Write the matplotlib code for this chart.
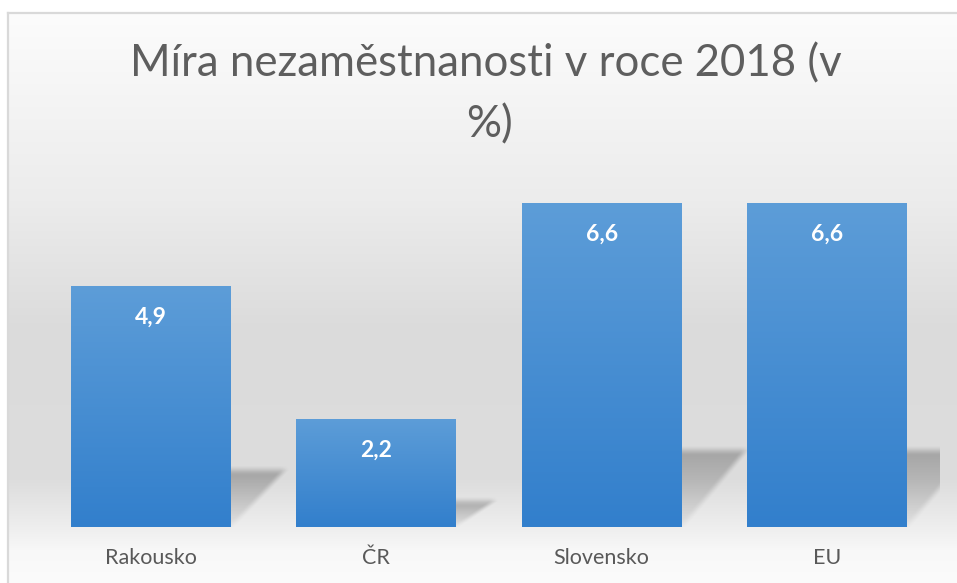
import numpy as np
import matplotlib
matplotlib.use("Agg")
import matplotlib.pyplot as plt

# data
categories = ["Rakousko", "ČR", "Slovensko", "EU"]
values = [4.9, 2.2, 6.6, 6.6]
labels = ["4,9", "2,2", "6,6", "6,6"]
title_l1 = "Míra nezaměstnanosti v roce 2018 (v"
title_l2 = "%)"

W, H = 957, 583
fig = plt.figure(figsize=(W / 100, H / 100), dpi=100)
fig.patch.set_facecolor("white")

# background gradient (pixel space)
bg = fig.add_axes([0, 0, 1, 1])
bg.set_xlim(0, W)
bg.set_ylim(H, 0)
bg.axis("off")
ys = np.arange(H)
stops_y = [13, 200, 330, 480, 527, 550, 583]
stops_c = [252, 236, 219, 221, 238, 248, 251]
col = np.interp(ys, stops_y, stops_c) / 255.0
img = np.ones((H, W, 3))
img[:, :, :] = col[:, None, None]
img[:13, :, :] = 1.0
img[:, :8, :] = 1.0
bg.imshow(img, extent=(0, W, H, 0), aspect="auto", interpolation="bilinear", zorder=0)
bg.plot([8, W], [13, 13], color="#d9d9d9", lw=1.6, zorder=1)
bg.plot([8, 8], [13, H], color="#d9d9d9", lw=1.6, zorder=1)

# title
tcol = "#595959"
fam = ["Lato", "DejaVu Sans"]
bg.text(486, 76, title_l1, ha="center", va="baseline", fontsize=31.5,
        family=fam, color="#5e5e5e", zorder=3)
bg.text(489, 137, title_l2, ha="center", va="baseline", fontsize=31.5,
        family=fam, color="#5e5e5e", zorder=3)

# main axes, pixel geometry of the plot area
base_px = 527
px_per_unit = 49.1
ymax = 7.0
top_px = base_px - ymax * px_per_unit
x_left, x_right = 38.3, 939.7
ax = fig.add_axes([x_left / W, 1 - base_px / H, (x_right - x_left) / W, (base_px - top_px) / H])
ax.set_xlim(-0.5, len(categories) - 0.5)
ax.set_ylim(0, ymax)
ax.patch.set_alpha(0)
for s in ax.spines.values():
    s.set_visible(False)
ax.set_yticks([])
ax.set_xticks(range(len(categories)))
ax.set_xticklabels(categories, fontsize=15.5, color=tcol, family=fam)
ax.tick_params(axis="x", length=0, pad=15)

ux = (x_right - x_left) / len(categories)  # px per category unit
bw = 0.71

# shadows behind bars
for i, v in enumerate(values):
    hpx = v * px_per_unit
    hs = 0.235 * hpx
    dx = 25 + 0.12 * hpx
    x0 = (i - bw / 2) * ux
    x1 = (i + bw / 2) * ux
    blur = 11.0
    gx0, gx1 = x0, x1 + dx + 2 * blur
    gh = hs + 2 * blur
    nx, ny = int(gx1 - gx0) + 1, int(gh) + 1
    px = np.linspace(gx0, gx1, nx)
    py = np.linspace(0, gh, ny)  # height above baseline
    PX, PY = np.meshgrid(px, py)
    t = np.clip(PY / hs, 0, 1)
    xr = x1 + t * dx
    a_x = np.clip((xr - PX) / blur + 0.5, 0, 1)
    a_y = np.clip((hs - PY) / blur + 0.5, 0, 1)
    a_x = a_x * a_x * (3 - 2 * a_x)
    a_y = a_y * a_y * (3 - 2 * a_y)
    alpha = a_x * a_y * (0.06 + 0.30 * t)
    rgba = np.zeros((ny, nx, 4))
    rgba[:, :, :3] = 0.25
    rgba[:, :, 3] = alpha
    ax.imshow(rgba, extent=(gx0 / ux, gx1 / ux, 0, gh / px_per_unit), origin="lower",
              aspect="auto", interpolation="bilinear", zorder=1)

# bars with vertical gradient
bars = ax.bar(range(len(categories)), values, width=bw, color="none", zorder=2)
top_c = np.array([93, 157, 216]) / 255
bot_c = np.array([50, 127, 204]) / 255
grad = np.linspace(0, 1, 256)[:, None]
gimg = np.ones((256, 2, 3))
gimg[:, :, :] = (bot_c[None, None, :] * (1 - grad[:, :, None]) + top_c[None, None, :] * grad[:, :, None])
for b in bars:
    x, w, h = b.get_x(), b.get_width(), b.get_height()
    im = ax.imshow(gimg, extent=(x, x + w, 0, h), origin="lower", aspect="auto",
                   interpolation="bilinear", zorder=2)
    im.set_clip_path(b)

# value labels
for i, v in enumerate(values):
    ax.text(i, v - 0.63, labels[i], ha="center", va="center", color="white",
            fontsize=16.5, fontweight="bold", family=fam, zorder=4)

fig.savefig("out.png", dpi=100)
